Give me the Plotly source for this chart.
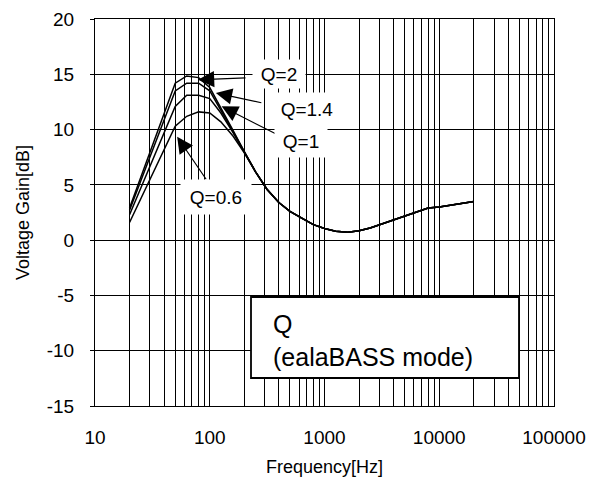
import numpy as np
import plotly.graph_objects as go

# ---- data ----
freq = [20, 50, 63, 80, 100, 125, 160, 200, 250, 315, 400, 500, 630, 800,
        1000, 1250, 1600, 2000, 2500, 3150, 4000, 5000, 6300, 8000, 10000,
        12500, 16000, 20000]
tail = [8.0, 6.2, 4.6, 3.4, 2.6, 2.0, 1.4, 1.05, 0.8, 0.72, 0.85, 1.1, 1.45,
        1.8, 2.15, 2.55, 2.9, 3.0, 3.15, 3.3, 3.5]
gain_q2 = [2.9, 14.2, 14.85, 14.7, 13.8, 12.0, 9.9] + tail
gain_q14 = [2.7, 13.5, 14.2, 14.2, 13.5, 11.8, 9.8] + tail
gain_q1 = [2.3, 12.1, 13.1, 13.1, 12.8, 11.5, 9.7] + tail
gain_q06 = [1.6, 10.3, 11.2, 11.6, 11.5, 10.7, 9.4] + [7.9] + tail[1:]

series = [("Q=2", gain_q2), ("Q=1.4", gain_q14), ("Q=1", gain_q1), ("Q=0.6", gain_q06)]

decades = [10, 100, 1000, 10000, 100000]
decade_labels = ["10", "100", "1000", "10000", "100000"]
ytick_vals = [-15, -10, -5, 0, 5, 10, 15, 20]
ytick_text = ["-15", "-10", "-5", "0", "5", "10", "15", "20"]

# arrow tips (freq, dB) and tail offsets (px)
arrow_tip_f = [79, 113, 127, 52]
arrow_tip_db = [14.5, 13.3, 12.1, 9.35]
arrow_ax = [49, 47, 55, 30]
arrow_ay = [-2, 10, 28, 44]

label_text = ["Q=2", "Q=1.4", "Q=1", "Q=0.6"]
label_px = [(279, 74), (307, 109), (301, 141), (216, 197)]
label_box = [(52, 28), (72, 32), (52, 32), (70, 34)]

# grid values: 1..9 x each decade
grid_vals = []
grid_text = []
for i, d in enumerate(decades[:-1]):
    for m in range(1, 10):
        grid_vals.append(d * m)
        grid_text.append(decade_labels[i] if m == 1 else "")
grid_vals.append(decades[-1])
grid_text.append(decade_labels[-1])

FONT = "Arial, Liberation Sans, sans-serif"

fig = go.Figure()
for name, vals in series:
    fig.add_trace(go.Scatter(x=freq, y=vals, mode="lines", name=name,
                             line=dict(color="black", width=1.5),
                             showlegend=False))

# the page body has an 8px default margin; compensate
OFF = 8
PL, PR, PT, PB = 95, 554, 19, 406          # plot area in page pixels
W, H = 599 - OFF, 484 - OFF
L, T = PL - OFF, PT - OFF
R = 599 - PR
B = 484 - PB
pw, ph = PR - PL, PB - PT


def px2paper(px, py):
    return (px - PL) / pw, (PB - py) / ph


annotations = []
for f, db, ax, ay in zip(arrow_tip_f, arrow_tip_db, arrow_ax, arrow_ay):
    annotations.append(dict(x=np.log10(f), y=db, xref="x", yref="y",
                            text="", showarrow=True, ax=ax, ay=ay,
                            arrowhead=2, arrowsize=2.7, arrowwidth=1.2,
                            arrowcolor="black"))
for txt, (lx, ly), (bw, bh) in zip(label_text, label_px, label_box):
    xp, yp = px2paper(lx, ly)
    annotations.append(dict(x=xp, y=yp, xref="paper", yref="paper",
                            text=txt, showarrow=False, bgcolor="white",
                            width=bw, height=bh, borderpad=0,
                            font=dict(family=FONT, size=19, color="black"),
                            xanchor="center", yanchor="middle"))

bx0, by1 = px2paper(251, 297)
bx1, by0 = px2paper(519, 378)
tx, ty = px2paper(271, 340)
annotations.append(dict(x=tx, y=ty, xref="paper", yref="paper",
                        text="Q<br>(ealaBASS mode)", showarrow=False,
                        align="left", xanchor="left", yanchor="middle",
                        font=dict(family=FONT, size=25, color="black")))

fig.update_layout(
    width=W, height=H,
    margin=dict(l=L, r=R, t=T, b=B, pad=0, autoexpand=False),
    paper_bgcolor="white", plot_bgcolor="white",
    font=dict(family=FONT, size=19, color="black"),
    annotations=annotations,
    shapes=[dict(type="rect", xref="paper", yref="paper",
                 x0=bx0, x1=bx1, y0=by0, y1=by1,
                 line=dict(color="black", width=1.8), fillcolor="white",
                 layer="above")],
)

fig.update_xaxes(type="log", range=[1, 5], tickmode="array",
                 tickvals=grid_vals, ticktext=grid_text,
                 showgrid=True, gridcolor="black", gridwidth=1,
                 showline=True, linecolor="black", linewidth=1, mirror=True,
                 ticks="", ticklabelstandoff=14, automargin=False,
                 tickfont=dict(family=FONT, size=19),
                 title=dict(text="Frequency[Hz]", standoff=13,
                            font=dict(family=FONT, size=18)),
                 zeroline=False)
fig.update_yaxes(range=[-15, 20], tickmode="array",
                 tickvals=ytick_vals, ticktext=ytick_text,
                 showgrid=True, gridcolor="black", gridwidth=1,
                 showline=True, linecolor="black", linewidth=1, mirror=True,
                 ticks="outside", ticklen=4, tickcolor="black",
                 ticklabelstandoff=12, automargin=False,
                 tickfont=dict(family=FONT, size=19),
                 title=dict(text="Voltage Gain[dB]", standoff=12,
                            font=dict(family=FONT, size=18)),
                 zeroline=False)

fig.write_html("out.html")
